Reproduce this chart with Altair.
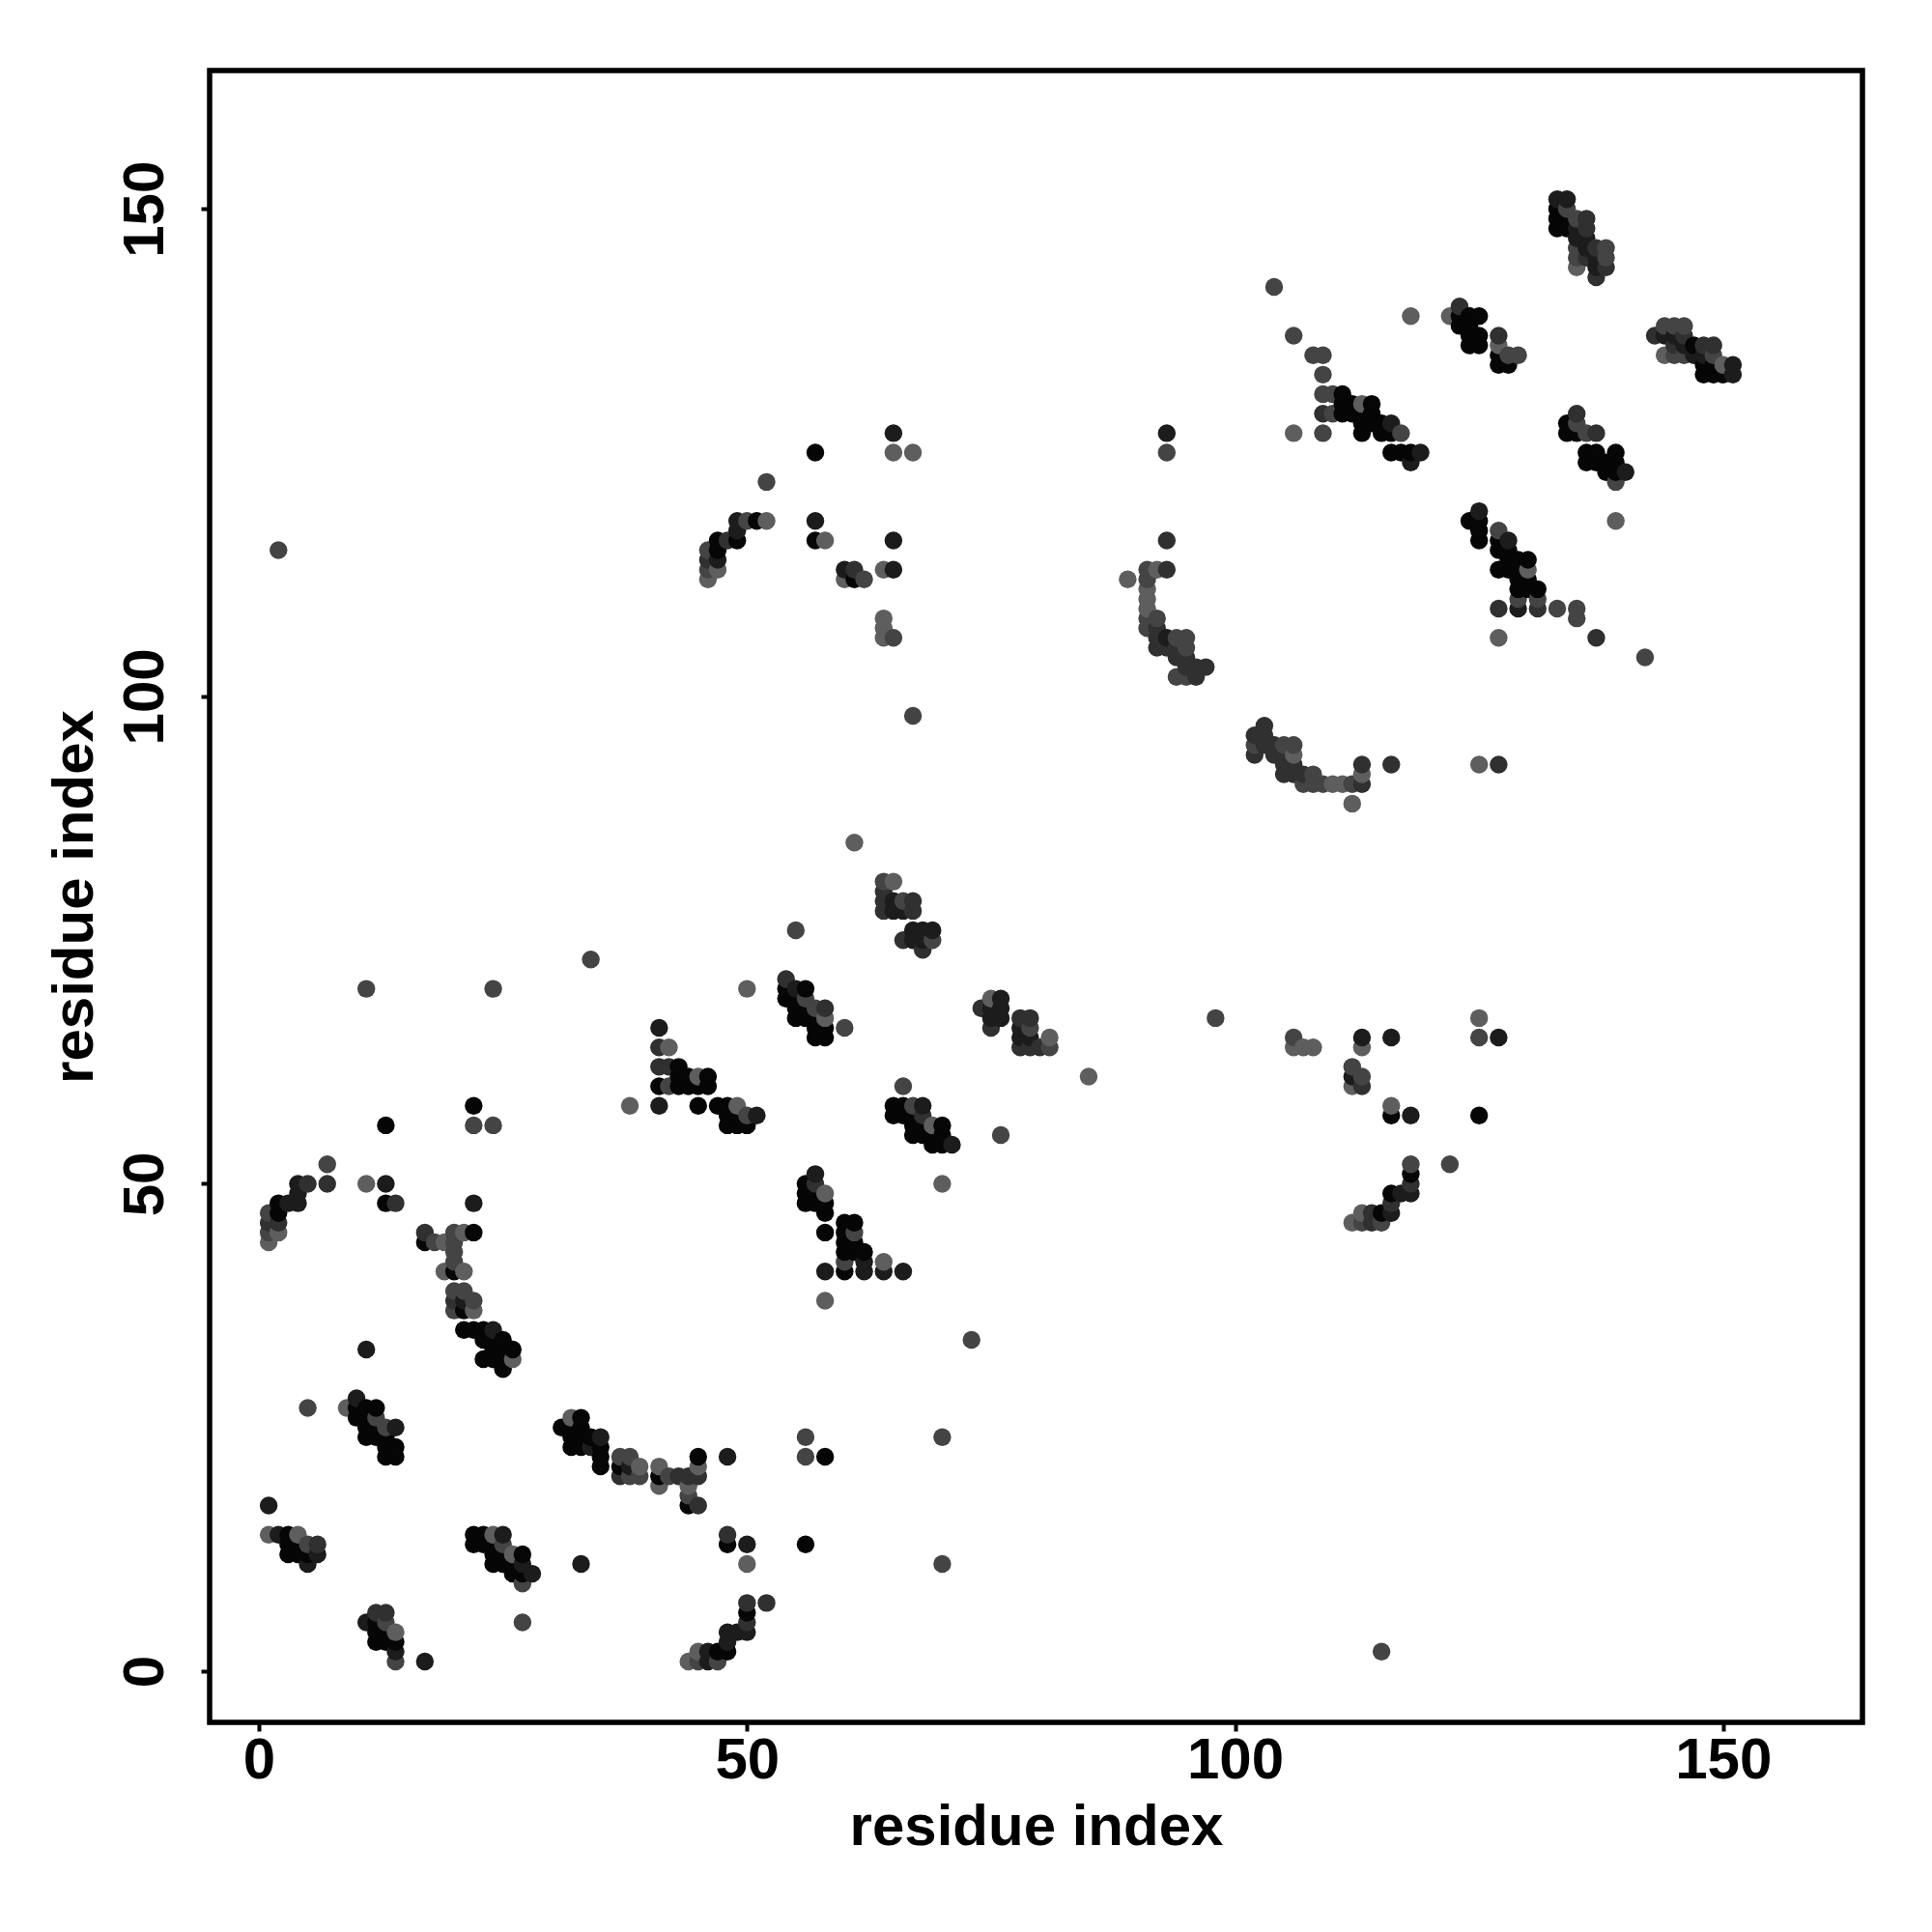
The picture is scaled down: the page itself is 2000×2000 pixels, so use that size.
import altair as alt
import pandas as pd

tone_black = [(10,27),(10,26),(11,27),(12,27),(11,26),(11,25),(12,25),(11,24),(12,24),(13,24),(13,23),(14,23),(13,22),(14,22),
(3,14),(3,13),(4,13),(3,12),(4,12),(5,12),(22,14),(23,14),(22,13),(23,13),(24,13),(24,12),(25,12),(27,12),(24,11),(25,11),(26,11),(26,10),(27,10),
(12,5),(12,4),(13,4),(12,3),(13,3),(14,3),(21,35),(22,35),(23,35),(23,34),(24,34),(25,34),(24,33),(25,33),(26,33),(23,32),(24,32),(25,32),(25,31),
(33,26),(31,25),(32,25),(33,25),(32,24),(33,24),(34,24),(32,23),(33,23),(35,23),(35,22),(35,21),(37,21),(41,20),(45,22),(44,17),(58,22),(48,13),(56,13),
(50,6),(48,2),(47,2),(13,56),(22,58),(13,48),(2,48),(2,47),(17,44),(22,45),(20,41),(21,37),(45,58),(41,60),(43,60),(44,60),(45,60),(46,60),(43,62),(43,61),(44,61),(46,61),
(47,58),(48,58),(48,57),(49,57),(48,56),(49,56),(50,56),(54,70),(54,69),(56,70),(55,69),(55,68),(55,67),(56,68),(56,67),(57,67),(57,66),(57,65),(58,66),(58,65),
(65,58),(65,57),(66,58),(66,57),(67,57),(67,56),(67,55),(68,56),(68,55),(70,56),(69,55),(70,55),(69,54),(70,54),(56,50),(56,49),(56,48),(57,49),(57,48),(58,48),(58,47),(58,45),
(60,46),(61,46),(60,45),(60,44),(61,44),(60,43),(61,43),(62,43),(60,41),(57,125),(51,118),(49,116),(47,116),(47,115),(57,116),(61,112),
(111,131),(111,130),(111,129),(112,130),(114,130),(112,129),(113,129),(114,129),(113,128),(113,127),(114,128),(115,128),(115,127),(116,127),(116,125),(117,125),(118,125),
(123,139),(123,138),(124,139),(125,139),(124,138),(124,137),(125,137),(124,136),(125,136),(127,135),(127,134),(128,134),
(133,150),(133,149),(133,148),(134,149),(134,148),(147,136),(148,134),(149,134),(148,133),(149,133),(150,133),(134,128),(134,127),(135,127),
(136,125),(137,125),(136,124),(137,124),(139,125),(139,124),(138,124),(138,123),(139,123),(124,118),(125,118),(125,117),(125,116),
(127,116),(127,115),(128,115),(128,114),(129,114),(130,114),(127,113),(128,113),(129,113),(129,112),(130,112),(129,111),(130,111),(131,111),(116,57),(125,57),(118,51),(116,49),(115,47)]

tone_dark = [(10,28),(14,25),(11,33),(1,17),(2,14),(6,12),(5,11),(25,14),(27,11),(28,10),(33,11),(11,5),(14,2),(17,1),(24,35),(35,24),(34,23),(38,21),(48,22),(50,13),
(50,4),(49,4),(48,4),(48,3),(46,2),(46,1),(4,50),(13,50),(22,48),(3,48),(4,48),(4,49),(21,38),(41,58),(41,66),(51,57),(55,70),(68,58),(71,54),(57,51),(62,42),(58,41),(62,41),(64,41),(66,41),
(65,79),(65,78),(66,78),(67,76),(68,76),(69,76),(67,75),(68,75),(76,69),(75,68),(76,68),(76,67),(75,67),(78,66),(78,65),(79,65),
(65,127),(49,118),(49,117),(47,114),(57,118),(65,116),(60,113),(65,113),(93,106),(116,128),(119,125),(118,124),(133,151),(134,151),(135,148),(135,147),(136,147),(136,146),(137,145),(137,144),
(144,137),(145,137),(146,136),(147,135),(148,135),(151,134),(151,133),(140,123),(125,119),(128,116),(129,109),(113,65),(116,65),(127,65),(112,61),(118,57),(118,49),(117,49),(116,47),(93,127)]

tone_mid = [(12,6),(13,6),(6,13),(37,20),(43,20),(44,20),(45,20),(45,17),(48,14),(50,7),(52,7),(50,5),(5,50),(7,50),(14,48),(1,46),(2,46),(17,45),(20,38),(41,62),(42,62),(41,64),
(54,71),(57,50),(58,68),(68,57),(64,80),(64,79),(64,78),(67,79),(67,78),(66,75),(68,74),(74,68),(75,66),(78,67),(79,67),(78,64),(79,64),(80,64),(61,113),(46,114),(48,116),
(93,116),(93,113),(92,107),(92,106),(92,105),(93,105),(94,105),(94,104),(95,104),(95,103),(96,103),(97,103),(96,102),(103,97),(102,96),(103,96),(103,95),(102,94),(104,95),(104,94),
(105,94),(105,93),(105,92),(106,93),(106,92),(107,92),(113,91),(113,93),(116,93),(127,93),(109,129),(123,140),(127,137),(136,149),(136,148),(136,145),(137,146),(138,144),(137,143),
(143,137),(146,137),(145,136),(148,136),(149,136),(135,129),(137,127),(127,109),(131,109),(137,106),(113,60),(118,50),(116,48),(114,47),(114,46)]

tone_soft = [(13,25),(12,26),(5,27),(5,13),(25,13),(27,9),(27,5),(13,5),(14,1),(47,1),(45,1),(37,22),(38,22),(38,20),(39,20),(42,20),(44,18),(56,24),(56,22),(70,24),(70,11),(73,34),(34,73),
(11,70),(24,70),(22,56),(24,56),(7,52),(1,47),(1,45),(18,44),(20,45),(20,44),(20,43),(20,42),(20,39),(21,39),(22,38),(20,37),(42,60),(50,57),(56,69),(57,68),(60,66),(66,60),(67,58),(76,55),(61,45),(60,42),
(55,76),(64,81),(66,79),(69,75),(79,66),(81,64),(52,122),(50,118),(46,115),(46,113),(62,112),(65,106),(67,98),(91,113),(91,112),(91,108),(92,108),(91,107),(94,106),(95,106),(95,105),(94,102),(95,102),
(102,95),(105,95),(106,95),(108,92),(107,91),(108,91),(109,91),(112,91),(104,142),(106,137),(108,135),(109,135),(109,133),(109,131),(110,131),(110,129),(117,127),(109,127),(128,135),(129,135),
(134,150),(135,149),(135,146),(135,145),(138,146),(138,145),(144,138),(145,138),(146,138),(145,135),(146,135),(149,135),(135,128),(136,127),(139,122),(127,117),(129,110),(131,110),(133,109),(135,109),(135,108),(142,104),
(106,65),(125,65),(112,62),(113,61),(118,52),(122,52),(115,46),(113,46),(2,115),(115,2),(98,67),(93,125)]

tone_light = [(9,27),(26,32),(1,14),(4,14),(24,14),(26,12),(14,4),(32,26),(39,21),(41,21),(41,19),(45,21),(44,19),(50,11),(44,1),(45,2),(38,58),(11,50),(2,45),(1,44),(19,44),(21,45),(19,41),(21,41),(22,37),
(45,61),(42,64),(49,58),(50,70),(58,67),(69,56),(70,50),(58,49),(64,42),(58,38),(61,85),(65,81),(75,69),(81,65),(85,61),(65,125),(67,125),(52,118),(47,113),(46,112),(58,116),(60,112),(64,113),(64,108),(64,107),(64,106),
(92,113),(89,112),(91,111),(91,110),(91,109),(106,94),(110,91),(111,91),(113,92),(112,89),(125,93),(113,130),(106,127),(118,139),(122,139),(127,136),(135,144),(144,135),(150,134),(130,113),(139,118),(127,106),
(106,64),(107,64),(108,64),(113,64),(125,67),(112,60),(116,58),(113,47),(112,46)]

tones = {"#060606": tone_black, "#1c1c1c": tone_dark, "#303030": tone_mid, "#444444": tone_soft, "#5e5e5e": tone_light}

rows = [{"i": i, "j": j, "tone": t} for t, pts in tones.items() for i, j in pts]
df = pd.DataFrame(rows).sort_values(["i", "j"], kind="stable")

font = "Liberation Sans"
x_axis = alt.Axis(values=[0, 50, 100, 150], title="residue index", grid=False, domain=False,
                  tickColor="black", tickWidth=4, tickSize=9, labelFont=font, labelFontWeight="bold",
                  labelFontSize=60, labelColor="black", labelPadding=1, titleFont=font, titleFontWeight="bold",
                  titleFontSize=60, titleColor="black", titlePadding=10)
y_axis = alt.Axis(values=[0, 50, 100, 150], title="residue index", grid=False, domain=False,
                  tickColor="black", tickWidth=4, tickSize=9, labelFont=font, labelFontWeight="bold",
                  labelFontSize=60, labelColor="black", labelPadding=27, labelAngle=-90, labelAlign="center",
                  labelBaseline="bottom", titleFont=font, titleFontWeight="bold",
                  titleFontSize=60, titleColor="black", titlePadding=12)

chart = (
    alt.Chart(df)
    .mark_circle(size=340, opacity=1)
    .encode(
        x=alt.X("i:Q", axis=x_axis, scale=alt.Scale(domain=[-5.05, 164.27], nice=False, zero=False)),
        y=alt.Y("j:Q", axis=y_axis, scale=alt.Scale(domain=[-5.25, 164.2], nice=False, zero=False)),
        color=alt.Color("tone:N", scale=None),
    )
    .properties(width=1711, height=1710, background="white",
                autosize=alt.AutoSizeParams(type="none"),
                padding={"left": 209, "top": 65, "right": 60, "bottom": 200})
    .configure_view(stroke="black", strokeWidth=5.5)
)
chart.save("out.html", embed_options={"renderer": "svg", "actions": False})
